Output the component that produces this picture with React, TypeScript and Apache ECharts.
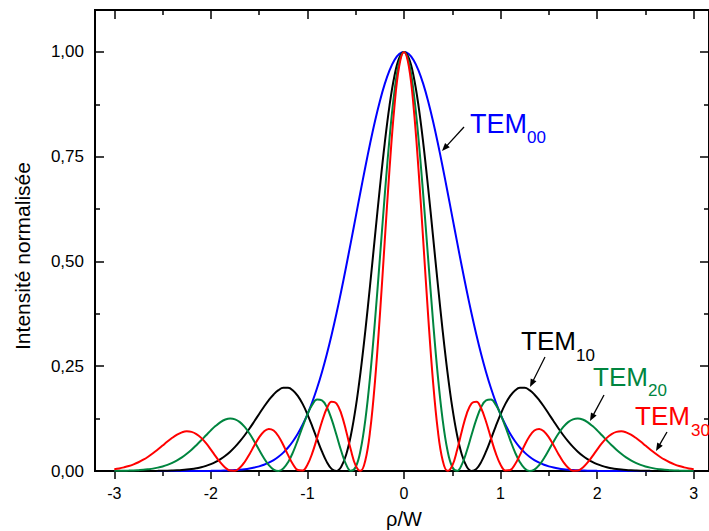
import React, { useEffect, useRef } from 'react';
import * as echarts from 'echarts';

// ρ/W sample positions (step 0.05)
const RHO = [
  -3, -2.95, -2.9, -2.85, -2.8, -2.75, -2.7, -2.65, -2.6, -2.55, -2.5, -2.45, -2.4, -2.35, -2.3, -2.25, -2.2, -2.15, -2.1, -2.05,
  -2, -1.95, -1.9, -1.85, -1.8, -1.75, -1.7, -1.65, -1.6, -1.55, -1.5, -1.45, -1.4, -1.35, -1.3, -1.25, -1.2, -1.15, -1.1, -1.05,
  -1, -0.95, -0.9, -0.85, -0.8, -0.75, -0.7, -0.65, -0.6, -0.55, -0.5, -0.45, -0.4, -0.35, -0.3, -0.25, -0.2, -0.15, -0.1, -0.05,
  0,
  0.05, 0.1, 0.15, 0.2, 0.25, 0.3, 0.35, 0.4, 0.45, 0.5, 0.55, 0.6, 0.65, 0.7, 0.75, 0.8, 0.85, 0.9, 0.95, 1,
  1.05, 1.1, 1.15, 1.2, 1.25, 1.3, 1.35, 1.4, 1.45, 1.5, 1.55, 1.6, 1.65, 1.7, 1.75, 1.8, 1.85, 1.9, 1.95, 2,
  2.05, 2.1, 2.15, 2.2, 2.25, 2.3, 2.35, 2.4, 2.45, 2.5, 2.55, 2.6, 2.65, 2.7, 2.75, 2.8, 2.85, 2.9, 2.95, 3,
];

const TEM00 = [
  0, 0, 0, 0, 0, 0, 0, 0, 0, 0, 0, 0, 0, 0, 0, 0, 0.0001, 0.0001, 0.0001, 0.0002,
  0.0003, 0.0005, 0.0007, 0.0011, 0.0015, 0.0022, 0.0031, 0.0043, 0.0060, 0.0082, 0.0111, 0.0149, 0.0198, 0.0261, 0.0341, 0.0439, 0.0561, 0.0710, 0.0889, 0.1103,
  0.1353, 0.1645, 0.1979, 0.2357, 0.2780, 0.3247, 0.3753, 0.4296, 0.4868, 0.5461, 0.6065, 0.6670, 0.7261, 0.7827, 0.8353, 0.8825, 0.9231, 0.9560, 0.9802, 0.9950,
  1,
  0.9950, 0.9802, 0.9560, 0.9231, 0.8825, 0.8353, 0.7827, 0.7261, 0.6670, 0.6065, 0.5461, 0.4868, 0.4296, 0.3753, 0.3247, 0.2780, 0.2357, 0.1979, 0.1645, 0.1353,
  0.1103, 0.0889, 0.0710, 0.0561, 0.0439, 0.0341, 0.0261, 0.0198, 0.0149, 0.0111, 0.0082, 0.0060, 0.0043, 0.0031, 0.0022, 0.0015, 0.0011, 0.0007, 0.0005, 0.0003,
  0.0002, 0.0001, 0.0001, 0.0001, 0, 0, 0, 0, 0, 0, 0, 0, 0, 0, 0, 0, 0, 0, 0, 0,
];

const TEM10 = [
  0, 0, 0, 0, 0, 0.0001, 0.0001, 0.0001, 0.0002, 0.0003, 0.0005, 0.0007, 0.0011, 0.0016, 0.0023, 0.0033, 0.0047, 0.0066, 0.0090, 0.0123,
  0.0164, 0.0217, 0.0283, 0.0364, 0.0461, 0.0575, 0.0706, 0.0853, 0.1014, 0.1186, 0.1361, 0.1533, 0.1692, 0.1827, 0.1929, 0.1984, 0.1984, 0.1922, 0.1793, 0.1601,
  0.1353, 0.1066, 0.0761, 0.0467, 0.0218, 0.0051, 0.0002, 0.0103, 0.0382, 0.0852, 0.1516, 0.2361, 0.3358, 0.4462, 0.5616, 0.6757, 0.7813, 0.8719, 0.9414, 0.9851,
  1,
  0.9851, 0.9414, 0.8719, 0.7813, 0.6757, 0.5616, 0.4462, 0.3358, 0.2361, 0.1516, 0.0852, 0.0382, 0.0103, 0.0002, 0.0051, 0.0218, 0.0467, 0.0761, 0.1066, 0.1353,
  0.1601, 0.1793, 0.1922, 0.1984, 0.1984, 0.1929, 0.1827, 0.1692, 0.1533, 0.1361, 0.1186, 0.1014, 0.0853, 0.0706, 0.0575, 0.0461, 0.0364, 0.0283, 0.0217, 0.0164,
  0.0123, 0.0090, 0.0066, 0.0047, 0.0033, 0.0023, 0.0016, 0.0011, 0.0007, 0.0005, 0.0003, 0.0002, 0.0001, 0.0001, 0.0001, 0, 0, 0, 0, 0,
];

const TEM20 = [
  0.0003, 0.0004, 0.0006, 0.0009, 0.0013, 0.0020, 0.0028, 0.0041, 0.0057, 0.0080, 0.0109, 0.0147, 0.0195, 0.0254, 0.0326, 0.0411, 0.0507, 0.0616, 0.0732, 0.0852,
  0.0970, 0.1077, 0.1167, 0.1228, 0.1252, 0.1233, 0.1166, 0.1051, 0.0894, 0.0705, 0.0502, 0.0306, 0.0141, 0.0033, 0.0001, 0.0059, 0.0211, 0.0445, 0.0739, 0.1057,
  0.1353, 0.1583, 0.1704, 0.1687, 0.1526, 0.1237, 0.0864, 0.0476, 0.0159, 0.0004, 0.0095, 0.0494, 0.1228, 0.2282, 0.3597, 0.5068, 0.6563, 0.7934, 0.9037, 0.9752,
  1,
  0.9752, 0.9037, 0.7934, 0.6563, 0.5068, 0.3597, 0.2282, 0.1228, 0.0494, 0.0095, 0.0004, 0.0159, 0.0476, 0.0864, 0.1237, 0.1526, 0.1687, 0.1704, 0.1583, 0.1353,
  0.1057, 0.0739, 0.0445, 0.0211, 0.0059, 0.0001, 0.0033, 0.0141, 0.0306, 0.0502, 0.0705, 0.0894, 0.1051, 0.1166, 0.1233, 0.1252, 0.1228, 0.1167, 0.1077, 0.0970,
  0.0852, 0.0732, 0.0616, 0.0507, 0.0411, 0.0326, 0.0254, 0.0195, 0.0147, 0.0109, 0.0080, 0.0057, 0.0041, 0.0028, 0.0020, 0.0013, 0.0009, 0.0006, 0.0004, 0.0003,
];

const TEM30 = [
  0.0044, 0.0062, 0.0087, 0.0118, 0.0159, 0.0209, 0.0269, 0.0341, 0.0422, 0.0512, 0.0607, 0.0703, 0.0792, 0.0868, 0.0922, 0.0946, 0.0934, 0.0882, 0.0790, 0.0663,
  0.0510, 0.0349, 0.0198, 0.0078, 0.0010, 0.0008, 0.0078, 0.0215, 0.0402, 0.0609, 0.0802, 0.0944, 0.1005, 0.0966, 0.0830, 0.0619, 0.0378, 0.0160, 0.0023, 0.0013,
  0.0150, 0.0425, 0.0790, 0.1175, 0.1490, 0.1654, 0.1616, 0.1369, 0.0962, 0.0501, 0.0129, 0.0003, 0.0257, 0.0973, 0.2152, 0.3707, 0.5466, 0.7203, 0.8672, 0.9655,
  1,
  0.9655, 0.8672, 0.7203, 0.5466, 0.3707, 0.2152, 0.0973, 0.0257, 0.0003, 0.0129, 0.0501, 0.0962, 0.1369, 0.1616, 0.1654, 0.1490, 0.1175, 0.0790, 0.0425, 0.0150,
  0.0013, 0.0023, 0.0160, 0.0378, 0.0619, 0.0830, 0.0966, 0.1005, 0.0944, 0.0802, 0.0609, 0.0402, 0.0215, 0.0078, 0.0008, 0.0010, 0.0078, 0.0198, 0.0349, 0.0510,
  0.0663, 0.0790, 0.0882, 0.0934, 0.0946, 0.0922, 0.0868, 0.0792, 0.0703, 0.0607, 0.0512, 0.0422, 0.0341, 0.0269, 0.0209, 0.0159, 0.0118, 0.0087, 0.0062, 0.0044,
];

const SERIES_NAMES = ['TEM00', 'TEM10', 'TEM20', 'TEM30'];
const SERIES_VALUES = [TEM00, TEM10, TEM20, TEM30];
const COLORS = ['#0000ff', '#000000', '#00853f', '#ff0000'];

const X_TITLE = 'ρ/W';
const Y_TITLE = 'Intensité normalisée';

const FONT = '"Liberation Sans", Arial, Helvetica, sans-serif';

function arrow(x1: number, y1: number, x2: number, y2: number) {
  const dx = x2 - x1;
  const dy = y2 - y1;
  const L = Math.hypot(dx, dy);
  const ux = dx / L;
  const uy = dy / L;
  const hl = 8;
  const hw = 3.2;
  const bx = x2 - ux * hl;
  const by = y2 - uy * hl;
  return [
    { type: 'line', shape: { x1, y1, x2: bx + ux * 1, y2: by + uy * 1 }, style: { stroke: '#000', lineWidth: 1.3 }, z: 100 },
    {
      type: 'polygon',
      shape: { points: [[x2, y2], [bx - uy * hw, by + ux * hw], [bx + uy * hw, by - ux * hw]] },
      style: { fill: '#000' },
      z: 100,
    },
  ];
}

function temLabel(x: number, baseline: number, sub: string, color: string, size = 27, subSize = 17, subDx = 57, subDy = 10) {
  return [
    {
      type: 'text',
      x,
      y: baseline - 0.3465 * size,
      style: { text: 'TEM', fontSize: size, fill: color, fontFamily: FONT, align: 'left', verticalAlign: 'middle' },
      z: 100,
    },
    {
      type: 'text',
      x: x + subDx,
      y: baseline + subDy - 0.3465 * subSize,
      style: { text: sub, fontSize: subSize, fill: color, fontFamily: FONT, align: 'left', verticalAlign: 'middle' },
      z: 100,
    },
  ];
}

export default function App() {
  const ref = useRef<HTMLDivElement>(null);

  useEffect(() => {
    const chart = echarts.init(ref.current!, null, { renderer: 'svg' });
    const tickStyle = { color: '#000', width: 1.5 };
    const option: any = {
      animation: false,
      backgroundColor: '#ffffff',
      textStyle: { fontFamily: FONT },
      grid: [
        { left: 95, top: 10, width: 618, height: 461, show: true, borderColor: '#000', borderWidth: 2, backgroundColor: 'transparent' },
        { left: 114.31, top: 10, width: 579.38, height: 461 },
      ],
      xAxis: [
        { gridIndex: 0, type: 'value', min: 0, max: 1, show: false },
        {
          gridIndex: 1, type: 'value', min: -3, max: 3, interval: 1, position: 'bottom',
          axisLine: { show: false },
          axisTick: { show: true, inside: false, length: 8, lineStyle: tickStyle },
          minorTick: { show: true, splitNumber: 2, length: 5, lineStyle: tickStyle },
          axisLabel: { fontSize: 16, color: '#000', margin: 14, fontFamily: FONT },
          splitLine: { show: false },
          minorSplitLine: { show: false },
        },
        {
          gridIndex: 1, type: 'value', min: -3, max: 3, interval: 1, position: 'top',
          axisLine: { show: false },
          axisTick: { show: true, inside: true, length: 9, lineStyle: tickStyle },
          minorTick: { show: true, splitNumber: 2, length: 5, lineStyle: tickStyle },
          axisLabel: { show: false },
          splitLine: { show: false },
        },
      ],
      yAxis: [
        {
          gridIndex: 0, type: 'value', min: 0, max: 1.1, interval: 0.25, position: 'left',
          axisLine: { show: false },
          axisTick: { show: true, inside: true, length: 9, lineStyle: tickStyle },
          minorTick: { show: true, splitNumber: 2, length: 5, lineStyle: tickStyle },
          axisLabel: {
            fontSize: 17, color: '#000', margin: 11, fontFamily: FONT,
            formatter: (v: number) => (v > 1.001 ? '' : v.toFixed(2).replace('.', ',')),
          },
          splitLine: { show: false },
        },
        {
          gridIndex: 0, type: 'value', min: 0, max: 1.1, interval: 0.25, position: 'right',
          axisLine: { show: false },
          axisTick: { show: true, inside: true, length: 9, lineStyle: tickStyle },
          minorTick: { show: true, splitNumber: 2, length: 5, lineStyle: tickStyle },
          axisLabel: { show: false },
          splitLine: { show: false },
        },
        { gridIndex: 1, type: 'value', min: 0, max: 1.1, show: false },
      ],
      series: SERIES_VALUES.map((vals, i) => ({
        name: SERIES_NAMES[i],
        type: 'line',
        xAxisIndex: 1,
        yAxisIndex: 2,
        data: RHO.map((r, j) => [r, vals[j]]),
        showSymbol: false,
        smooth: 0.4,
        lineStyle: { color: COLORS[i], width: 2 },
        itemStyle: { color: COLORS[i] },
        z: 2 + i,
      })),
      graphic: [
        {
          type: 'text', x: 22, y: 256, rotation: Math.PI / 2,
          style: { text: Y_TITLE, fontSize: 21, fill: '#000', fontFamily: FONT, align: 'center', verticalAlign: 'middle' },
        },
        {
          type: 'text', x: 404, y: 519,
          style: { text: X_TITLE, fontSize: 20, fill: '#000', fontFamily: FONT, align: 'center', verticalAlign: 'middle' },
        },
        ...temLabel(470, 133, '00', COLORS[0]),
        ...temLabel(521, 350, '10', COLORS[1], 26, 17, 55, 11),
        ...temLabel(593, 386, '20', COLORS[2], 26, 17, 55, 10),
        ...temLabel(635, 425, '30', COLORS[3], 26, 17, 56, 11),
        ...arrow(464, 127, 442, 151),
        ...arrow(545, 357, 530, 387),
        ...arrow(604, 395, 590, 421),
        ...arrow(667, 432, 656, 451),
      ],
    };
    chart.setOption(option);
    return () => chart.dispose();
  }, []);

  return (
    <div
      ref={ref}
      style={{ position: 'absolute', left: 0, top: 0, width: 709, height: 531, background: '#fff' }}
    />
  );
}
